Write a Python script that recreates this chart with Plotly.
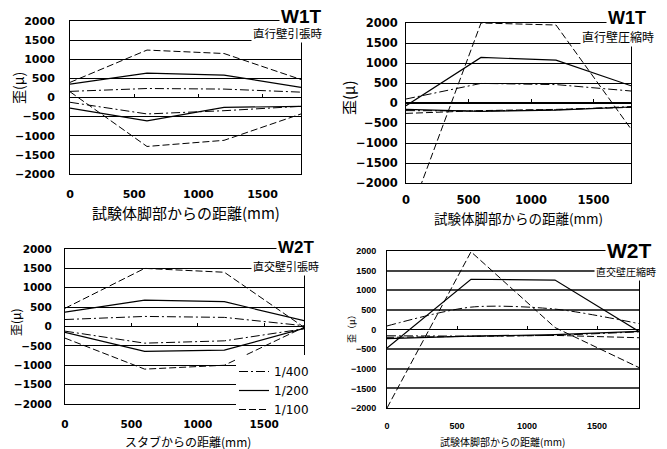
import plotly.graph_objects as go

W, H = 667, 449

# ---------------- data ----------------
x_pos = [0, 600, 1200, 1800]
x_ticks = [0, 500, 1000, 1500]
x_inner_ticks = [500, 1000, 1500]
y_ticks = [-2000, -1500, -1000, -500, 0, 500, 1000, 1500, 2000]
series_labels = ["1/400", "1/200", "1/100"]

# W1T 直行壁引張時
p1_400_pos = [160, 235, 220, 140]
p1_200_pos = [350, 635, 585, 265]
p1_100_pos = [395, 1240, 1150, 470]
p1_400_neg = [-125, -430, -345, -230]
p1_200_neg = [-280, -610, -260, -230]
p1_100_neg = [150, -1280, -1120, -430]

# W1T 直行壁圧縮時
p2_400_pos = [100, 490, 460, 300]
p2_200_pos = [-70, 1140, 1070, 430]
p2_100_pos = [-3050, 2000, 1950, -650]
p2_400_neg = [-190, -200, -170, -90]
p2_200_neg = [-160, -210, -180, -100]
p2_100_neg = [-260, -190, -160, -110]

# W2T 直交壁引張時
p3_400_pos = [180, 260, 235, 20]
p3_200_pos = [370, 680, 640, 150]
p3_100_pos = [470, 1500, 1400, -20]
p3_400_neg = [-120, -430, -370, -60]
p3_200_neg = [-150, -640, -610, -50]
p3_100_neg = [-300, -1100, -1000, -20]

# W2T 直交壁圧縮時
p4_400_pos = [90, 570, 520, 150]
p4_200_pos = [-470, 1280, 1260, -50]
p4_100_pos = [-2000, 1980, 50, -970]
p4_400_neg = [-160, -170, -150, -60]
p4_200_neg = [-230, -170, -130, -50]
p4_100_neg = [-200, -180, -150, -210]

titles = ["W1T", "W1T", "W2T", "W2T"]
subtitles = ["直行壁引張時", "直行壁圧縮時", "直交壁引張時", "直交壁圧縮時"]
xtitles = ["試験体脚部からの距離(mm)", "試験体脚部からの距離(mm)",
           "スタブからの距離(mm)", "試験体脚部からの距離(mm)"]
ytitles = ["歪(μ)", "歪(μ)", "歪(μ)", "歪（μ）"]

panel_series = [
    [p1_400_pos, p1_200_pos, p1_100_pos, p1_400_neg, p1_200_neg, p1_100_neg],
    [p2_400_pos, p2_200_pos, p2_100_pos, p2_400_neg, p2_200_neg, p2_100_neg],
    [p3_400_pos, p3_200_pos, p3_100_pos, p3_400_neg, p3_200_neg, p3_100_neg],
    [p4_400_pos, p4_200_pos, p4_100_pos, p4_400_neg, p4_200_neg, p4_100_neg],
]

# ---------------- layout geometry (pixels) ----------------
def fx(px):
    return px / W

def fy(py):
    return 1 - py / H

geo = [
    dict(x=(70, 301), y=(21, 174), tick=dict(family="DejaVu Sans", size=11, weight="bold"),
         ystand=12, xstand=10,
         title=dict(x=301, y=17, size=19), sub=dict(x=287, y=33, size=11.5),
         xt=dict(x=186, y=212, size=15), yt=dict(x=18, y=88, size=14), grid=1, gc="black"),
    dict(x=(406, 631), y=(23, 183), tick=dict(family="DejaVu Sans", size=11.5, weight="bold"),
         ystand=5, xstand=6,
         title=dict(x=627, y=18, size=18), sub=dict(x=618, y=37, size=12),
         xt=dict(x=518, y=218, size=13.5), yt=dict(x=348, y=98, size=15), grid=1, gc="black"),
    dict(x=(65, 304), y=(249, 404), tick=dict(family="DejaVu Sans", size=10.5, weight="bold"),
         ystand=10, xstand=10,
         title=dict(x=296, y=248, size=17), sub=dict(x=286, y=266, size=11),
         xt=dict(x=188, y=441, size=12), yt=dict(x=15, y=322, size=12), grid=1, gc="black"),
    dict(x=(387, 639), y=(251, 408), tick=dict(family="Liberation Sans", size=9, weight="bold"),
         ystand=8, xstand=9,
         title=dict(x=629, y=251, size=21), sub=dict(x=626, y=271, size=10),
         xt=dict(x=502, y=441, size=10), yt=dict(x=351, y=327, size=9), grid=2, gc="#444444"),
]

styles = [
    dict(dash="9px,3px,2px,3px", width=1),
    dict(dash="solid", width=1.2),
    dict(dash="7px,3px", width=1),
]

fig = go.Figure()
layout = dict(width=W, height=H, autosize=False,
              margin=dict(l=0, r=0, t=0, b=0, autoexpand=False),
              paper_bgcolor="white", plot_bgcolor="white",
              annotations=[], shapes=[])

for k in range(4):
    g = geo[k]
    n = "" if k == 0 else str(k + 1)
    xa, ya = "x" + n, "y" + n
    for j, vals in enumerate(panel_series[k]):
        st = styles[j % 3]
        show = (k == 2 and j < 3)
        fig.add_trace(go.Scatter(
            x=x_pos, y=vals, mode="lines",
            line=dict(color="black", width=st["width"], dash=st["dash"],
                      shape="spline" if (k == 3 and j == 0) else "linear",
                      smoothing=0.8),
            name=series_labels[j % 3], legendgroup=series_labels[j % 3],
            showlegend=show, hoverinfo="skip", xaxis=xa, yaxis=ya))

    xd = [fx(g["x"][0]), fx(g["x"][1])]
    yd = [fy(g["y"][1]), fy(g["y"][0])]
    layout["xaxis" + n] = dict(
        domain=xd, range=[0, 1800], tickvals=x_ticks, ticks="",
        showgrid=False, zeroline=False, showline=True, mirror=True,
        linecolor="black", linewidth=1, tickfont=dict(color="black", **g["tick"]),
        ticklabelstandoff=g["xstand"], anchor=ya, fixedrange=True, automargin=False)
    layout["yaxis" + n] = dict(
        domain=yd, range=[-2000, 2000], tickvals=y_ticks, ticks="",
        showgrid=True, gridcolor=g["gc"], gridwidth=g["grid"],
        zeroline=True, zerolinecolor="black", zerolinewidth=1.2,
        showline=True, mirror=True, linecolor="black", linewidth=1,
        tickfont=dict(color="black", **g["tick"]),
        ticklabelstandoff=g["ystand"], anchor=xa, fixedrange=True, automargin=False)

    # tick marks on the zero line
    on = str(k + 5)
    layout["xaxis" + on] = dict(
        overlaying=xa, anchor="free", position=(yd[0] + yd[1]) / 2,
        range=[0, 1800], tickvals=x_inner_ticks, ticks="inside", ticklen=4,
        tickcolor="black", tickwidth=1, showticklabels=False, showline=False,
        showgrid=False, zeroline=False, fixedrange=True, automargin=False)
    fig.add_trace(go.Scatter(x=[None], y=[None], xaxis="x" + on, yaxis=ya,
                             showlegend=False, hoverinfo="skip"))

    ann = layout["annotations"]
    ann.append(dict(text=titles[k], x=fx(g["title"]["x"]), y=fy(g["title"]["y"]),
                    xref="paper", yref="paper", showarrow=False, xanchor="center", yanchor="middle",
                    bgcolor="white", borderpad=1,
                    font=dict(family="Liberation Sans", size=g["title"]["size"], weight="bold", color="black")))
    ann.append(dict(text=subtitles[k], x=fx(g["sub"]["x"]), y=fy(g["sub"]["y"]),
                    xref="paper", yref="paper", showarrow=False, xanchor="center", yanchor="middle",
                    bgcolor="white", borderpad=1,
                    font=dict(family="Noto Sans CJK JP", size=g["sub"]["size"], color="black")))
    ann.append(dict(text=xtitles[k], x=fx(g["xt"]["x"]), y=fy(g["xt"]["y"]),
                    xref="paper", yref="paper", showarrow=False, xanchor="center", yanchor="middle",
                    font=dict(family="Noto Sans CJK JP", size=g["xt"]["size"], color="black")))
    ann.append(dict(text=ytitles[k], x=fx(g["yt"]["x"]), y=fy(g["yt"]["y"]),
                    xref="paper", yref="paper", showarrow=False, xanchor="center", yanchor="middle",
                    textangle=-90,
                    font=dict(family="Noto Sans CJK JP", size=g["yt"]["size"], color="black")))

# white patch behind the legend of the W2T tension panel
layout["shapes"].append(dict(type="rect", xref="paper", yref="paper", layer="above",
                             x0=fx(236), x1=fx(322), y0=fy(410), y1=fy(355),
                             fillcolor="white", line=dict(width=0)))

layout["showlegend"] = True
layout["legend"] = dict(x=fx(234), y=fy(357), xanchor="left", yanchor="top",
                        bgcolor="rgba(0,0,0,0)", borderwidth=0, tracegroupgap=0,
                        itemwidth=30, traceorder="normal",
                        font=dict(family="DejaVu Sans", size=12, color="black"))

fig.update_layout(**layout)
fig.write_html("out.html", config={"displayModeBar": False, "staticPlot": True},
               post_script="document.body.style.margin='0';document.body.style.overflow='hidden';")
